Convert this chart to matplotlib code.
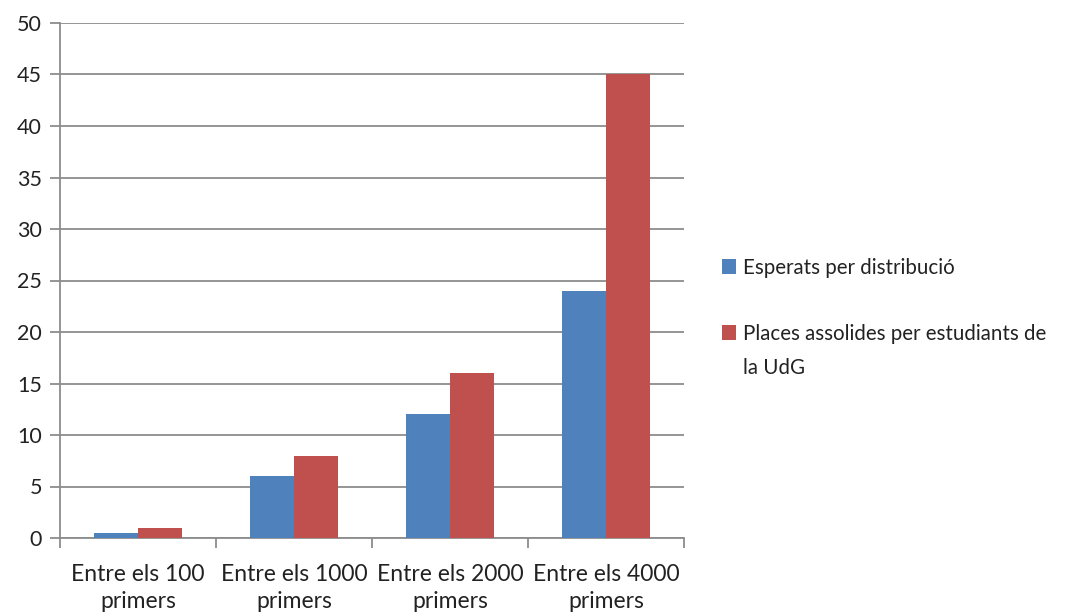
import matplotlib
matplotlib.use('Agg')
import matplotlib.pyplot as plt
import numpy as np

plt.rcParams['font.family'] = ['Lato', 'DejaVu Sans']

# data
categories = ['Entre els 100\nprimers', 'Entre els 1000\nprimers',
              'Entre els 2000\nprimers', 'Entre els 4000\nprimers']
esperats = [0.5, 6, 12, 24]
places = [1, 8, 16, 45]
series_names = ['Esperats per distribució',
                'Places assolides per estudiants de']
name_wrap = 'la UdG'  # second line of the second series name

fig = plt.figure(figsize=(10.74, 6.13), dpi=100)
ax = fig.add_axes([60 / 1074, 75 / 613, 624 / 1074, 515 / 613])

x = np.arange(len(categories))
w = 0.283
ax.bar(x - w / 2, esperats, w, color='#4F81BD', label=series_names[0], zorder=3)
ax.bar(x + w / 2, places, w, color='#C0504D', label=series_names[1], zorder=3)

ax.set_xlim(-0.5, len(categories) - 0.5)
ax.set_ylim(0, 50)
ax.set_yticks(range(0, 51, 5))
ax.yaxis.grid(True, color='#8c8c8c', linewidth=1.3, zorder=0)

for s in ['top', 'right']:
    ax.spines[s].set_visible(False)
for s in ['left', 'bottom']:
    ax.spines[s].set_color('#8c8c8c')
    ax.spines[s].set_linewidth(1.3)

ax.set_xticks(x)
ax.set_xticklabels(categories, fontsize=16.5, linespacing=1.35, color='#222222')
ax.tick_params(axis='x', which='major', length=0, pad=19)
ax.set_xticks(np.arange(-0.5, len(categories), 1), minor=True)
ax.tick_params(axis='x', which='minor', length=7, width=1.3, color='#8c8c8c')
ax.tick_params(axis='y', length=7, width=1.3, color='#8c8c8c', labelsize=15.5,
               labelcolor='#222222', pad=6)

leg = fig.legend(loc='upper left', bbox_to_anchor=(703 / 1074, (613 - 239) / 613),
                 frameon=False, fontsize=14.8, handlelength=0.7, handleheight=0.7,
                 handletextpad=0.35, labelspacing=2.25)
for t in leg.get_texts():
    t.set_color('#222222')

# wrapped part of the second legend label, placed under its first line
fig.canvas.draw()
bb = leg.get_texts()[1].get_window_extent().transformed(fig.transFigure.inverted())
fig.text(bb.x0, bb.y0 - 34 / 613, name_wrap, fontsize=14.8, color='#222222',
         ha='left', va='bottom')

fig.savefig('out.png', dpi=100)
